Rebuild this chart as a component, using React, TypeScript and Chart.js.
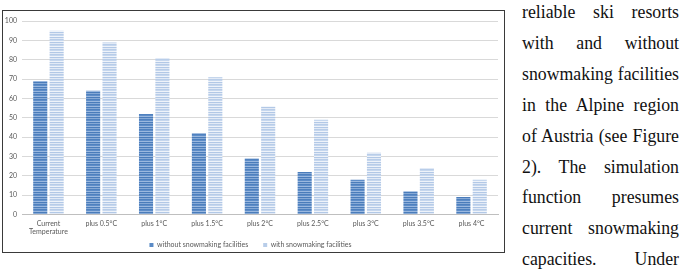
import React, { useEffect, useRef } from 'react';
import { Chart, registerables } from 'chart.js';

Chart.register(...registerables);

// Scenario categories on the x axis
const categories: (string | string[])[] = [
  ['Current', 'Temperature'],
  'plus 0.5°C',
  'plus 1°C',
  'plus 1.5°C',
  'plus 2°C',
  'plus 2.5°C',
  'plus 3°C',
  'plus 3.5°C',
  'plus 4°C',
];

// Share of snow-reliable ski resorts (%)
const withoutSnowmaking = [69, 64, 52, 42, 29, 22, 18, 12, 9];
const withSnowmaking = [95, 89, 81, 71, 56, 49, 32, 24, 18];

const seriesNames = ['without snowmaking facilities', 'with snowmaking facilities'];

const yMin = 0;
const yMax = 100;
const yStep = 10;

// Body text set beside the figure, one entry per printed line
const paragraphLines = [
  'reliable ski resorts',
  'with and without',
  'snowmaking facilities',
  'in the Alpine region',
  'of Austria (see Figure',
  '2). The simulation',
  'function presumes',
  'current snowmaking',
  'capacities. Under',
];

// Horizontal-striped fill, like a patterned bar in a spreadsheet chart
function stripes(rows: string[]): CanvasPattern | string {
  const c = document.createElement('canvas');
  c.width = 2;
  c.height = rows.length;
  const ctx = c.getContext('2d');
  if (!ctx) return rows[0];
  rows.forEach((col, i) => {
    ctx.fillStyle = col;
    ctx.fillRect(0, i, 2, 1);
  });
  return ctx.createPattern(c, 'repeat') || rows[0];
}

const CHART_FONT = 'Lato, "Liberation Sans", sans-serif';

// The x axis is kept short so the legend sits close; give its labels
// extra room below so two-line category names are not clipped.
const tickRoom = {
  id: 'tickRoom',
  afterLayout(chart: any) {
    const x = chart.scales.x;
    if (x) x.bottom += 14;
  },
};

function ResortChart() {
  const ref = useRef<HTMLCanvasElement | null>(null);

  useEffect(() => {
    if (!ref.current) return;
    const darkFill = stripes(['#4a7cba', '#86a9d6', '#4f81bf', '#5e8dc8', '#9ab8df']);
    const lightFill = stripes(['#b2c8e6', '#e2eaf6', '#b8cde9', '#c6d7ee', '#eef3fa']);

    const chart = new Chart(ref.current, {
      type: 'bar',
      data: {
        labels: categories,
        datasets: [
          {
            label: seriesNames[0],
            data: withoutSnowmaking,
            backgroundColor: darkFill,
            borderWidth: 0,
            categoryPercentage: 0.62,
            barPercentage: 0.86,
          },
          {
            label: seriesNames[1],
            data: withSnowmaking,
            backgroundColor: lightFill,
            borderWidth: 0,
            categoryPercentage: 0.62,
            barPercentage: 0.86,
          },
        ],
      },
      plugins: [tickRoom],
      options: {
        animation: false,
        responsive: false,
        maintainAspectRatio: false,
        layout: { padding: { top: 7, right: 8, bottom: 3.5, left: 0 } },
        plugins: {
          tooltip: { enabled: false },
          legend: {
            position: 'bottom',
            labels: {
              font: { family: CHART_FONT, size: 7 },
              color: '#595959',
              boxWidth: 4,
              boxHeight: 4,
              padding: 15,
              generateLabels: () =>
                seriesNames.map((name, i) => ({
                  text: name,
                  fillStyle: i === 0 ? '#5b8bc6' : '#b8cde9',
                  strokeStyle: 'rgba(0,0,0,0)',
                  lineWidth: 0,
                  hidden: false,
                  datasetIndex: i,
                  fontColor: '#595959',
                })),
            },
          },
        },
        scales: {
          x: {
            grid: { display: false, drawTicks: false },
            border: { display: true, color: '#bfbfbf', width: 1 },
            ticks: {
              font: { family: CHART_FONT, size: 7 },
              color: '#595959',
              padding: 5,
              maxRotation: 0,
              autoSkip: false,
            },
            afterFit: (scale: any) => {
              scale.height = 12;
            },
          },
          y: {
            min: yMin,
            max: yMax,
            grid: { color: '#d9d9d9', lineWidth: 1, drawTicks: false },
            border: { display: false },
            ticks: {
              stepSize: yStep,
              font: { family: CHART_FONT, size: 7 },
              color: '#595959',
              padding: 5,
            },
            afterFit: (scale: any) => {
              scale.width = 19;
            },
          },
        },
      },
    });
    return () => chart.destroy();
  }, []);

  return <canvas ref={ref} width={503} height={250} style={{ display: 'block', width: 503, height: 250 }} />;
}

export default function App() {
  return (
    <div style={{ position: 'absolute', left: 0, top: 0, width: 686, height: 269, overflow: 'hidden', background: '#fff' }}>
      <div style={{ position: 'absolute', left: 3, top: 12 }}>
        <ResortChart />
      </div>
      {/* frame around the figure */}
      <div
        style={{
          position: 'absolute',
          left: 2,
          top: 10,
          width: 501,
          height: 241,
          border: '1.5px solid #3a3a3a',
          pointerEvents: 'none',
        }}
      />
      <div
        style={{
          position: 'absolute',
          left: 522,
          top: -3,
          width: 157,
          fontFamily: '"Liberation Serif", "Times New Roman", serif',
          fontSize: 17.8,
          lineHeight: '30.9px',
          color: '#111',
        }}
      >
        {paragraphLines.map((line, i) => (
          <div key={i} style={{ textAlign: 'justify', textAlignLast: 'justify', whiteSpace: 'nowrap' }}>
            {line}
          </div>
        ))}
      </div>
    </div>
  );
}
